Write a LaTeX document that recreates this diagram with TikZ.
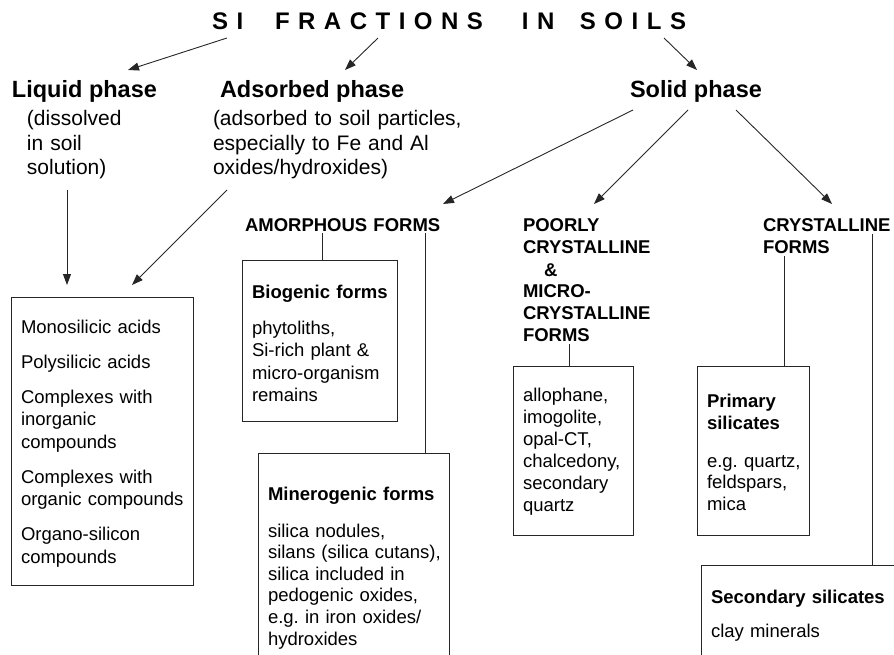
\documentclass[tikz,border=0pt]{standalone}
\usepackage{fontspec}
\setmainfont{Liberation Sans}
\usetikzlibrary{arrows.meta}
\frenchspacing
\newcommand\lsp{\hspace{8.5pt}}
\begin{document}
\begin{tikzpicture}[x=1pt,y=-1pt,
  every node/.style={inner sep=0pt, outer sep=0pt, text=black},
  titlefont/.style={font=\fontsize{24}{28}\bfseries\selectfont, anchor=base west},
  phase/.style={font=\fontsize{23.5}{28}\bfseries\selectfont, anchor=base west},
  paren/.style={font=\fontsize{21}{24.5}\selectfont, anchor=base west, align=left, text width=#1},
  cat/.style={font=\fontsize{18.5}{22}\bfseries\selectfont, anchor=base west, align=left, text width=#1},
  bodytxt/.style={font=\fontsize{18.5}{#1}\selectfont, anchor=base west, align=left, text width=200pt},
  boxhead/.style={font=\fontsize{18.5}{22}\bfseries\selectfont, anchor=base west, align=left, text width=200pt},
  frame/.style={draw=black!85, line width=1pt, anchor=north west, fill=none},
  conn/.style={draw=black!85, line width=0.9pt},
  arr/.style={conn, -{Triangle[length=11pt,width=8pt]}}
]
\useasboundingbox (0,0) rectangle (894,655);
\clip (0,0) rectangle (894,655);

% title and phases
\node[titlefont] (title) at (212,30) {\makebox[63pt][l]{S\lsp I}\makebox[247pt][l]{F\lsp R\lsp A\lsp C\lsp T\lsp I\lsp O\lsp N\lsp S}\makebox[58pt][l]{I\lsp N}S\lsp O\lsp I\lsp L\lsp S};
\node[phase] (liq) at (12,98) {Liquid phase};
\node[phase] (ads) at (220,98) {Adsorbed phase};
\node[phase] (sol) at (630,98) {Solid phase};
\node[paren=150pt] (liqtxt) at (27,126) {(dissolved\\in soil\\solution)};
\node[paren=260pt] (adstxt) at (213,126) {(adsorbed to soil particles,\\especially to Fe and Al\\oxides/hydroxides)};

% categories
\node[cat=200pt] (amor) at (245,231) {AMORPHOUS FORMS};
\node[cat=140pt] (poor) at (523,232) {POORLY\\CRYSTALLINE\\\hspace*{21pt}\&\\MICRO-\\CRYSTALLINE\\FORMS};
\node[cat=140pt] (cryst) at (763,232) {CRYSTALLINE\\FORMS};

% boxes
\node[frame, minimum width=182pt, minimum height=288pt] (lbox) at (11,297) {};
\node[frame, minimum width=155pt, minimum height=161pt] (biobox) at (242,260) {};
\node[frame, minimum width=191pt, minimum height=260pt] (minbox) at (258,453) {};
\node[frame, minimum width=120pt, minimum height=169pt] (poorbox) at (513,366) {};
\node[frame, minimum width=112pt, minimum height=169pt] (primbox) at (697,366) {};
\node[frame, minimum width=220pt, minimum height=150pt] (secbox) at (701,565) {};

% box texts
\node[bodytxt=22.5] (ltxt) at (21,333) {Monosilicic acids\\[12.5pt]Polysilicic acids\\[12.5pt]Complexes with\\inorganic\\compounds\\[12.5pt]Complexes with\\organic compounds\\[12.5pt]Organo-silicon\\compounds};
\node[boxhead] (biohead) at (252,298) {Biogenic forms};
\node[bodytxt=22.5] (biotxt) at (252,334) {phytoliths,\\Si-rich plant \&\\micro-organism\\remains};
\node[boxhead] (minhead) at (268,500) {Minerogenic forms};
\node[bodytxt=21.6] (mintxt) at (268,537) {silica nodules,\\silans (silica cutans),\\silica included in\\pedogenic oxides,\\e.g. in iron oxides/\\hydroxides};
\node[bodytxt=22] (poortxt) at (523,401) {allophane,\\imogolite,\\opal-CT,\\chalcedony,\\secondary\\quartz};
\node[boxhead] (primhead) at (707,407) {Primary\\silicates};
\node[bodytxt=21.5] (primtxt) at (707,467) {e.g. quartz,\\feldspars,\\mica};
\node[boxhead] (sechead) at (711,603) {Secondary silicates};
\node[bodytxt=22] (sectxt) at (711,637) {clay minerals};

% arrow end points
\coordinate (t1) at (227,38);  \coordinate (h1) at (128,70);
\coordinate (t2) at (378,38);  \coordinate (h2) at (345,70);
\coordinate (t3) at (664,38);  \coordinate (h3) at (697,70);
\coordinate (l0) at (67,190);  \coordinate (l1) at (67,285);
\coordinate (a0) at (227,190); \coordinate (a1) at (132,285);
\coordinate (s1) at (633,110); \coordinate (e1) at (443,204);
\coordinate (s2) at (688,110); \coordinate (e2) at (594,204);
\coordinate (s3) at (736,110); \coordinate (e3) at (832,204);

\draw[arr] (t1) -- (h1);
\draw[arr] (t2) -- (h2);
\draw[arr] (t3) -- (h3);
\draw[arr] (l0) -- (l1);
\draw[arr] (a0) -- (a1);
\draw[arr] (s1) -- (e1);
\draw[arr] (s2) -- (e2);
\draw[arr] (s3) -- (e3);

% plain connectors
\coordinate (c1) at (322,233);
\draw[conn] (c1) -- (c1 |- biobox.north);
\coordinate (c2) at (425,233);
\draw[conn] (c2) -- (c2 |- minbox.north);
\coordinate (c3) at (569,344);
\draw[conn] (c3) -- (c3 |- poorbox.north);
\coordinate (c4) at (784,256);
\draw[conn] (c4) -- (c4 |- primbox.north);
\coordinate (c5) at (872,234);
\draw[conn] (c5) -- (c5 |- secbox.north);
\end{tikzpicture}
\end{document}
